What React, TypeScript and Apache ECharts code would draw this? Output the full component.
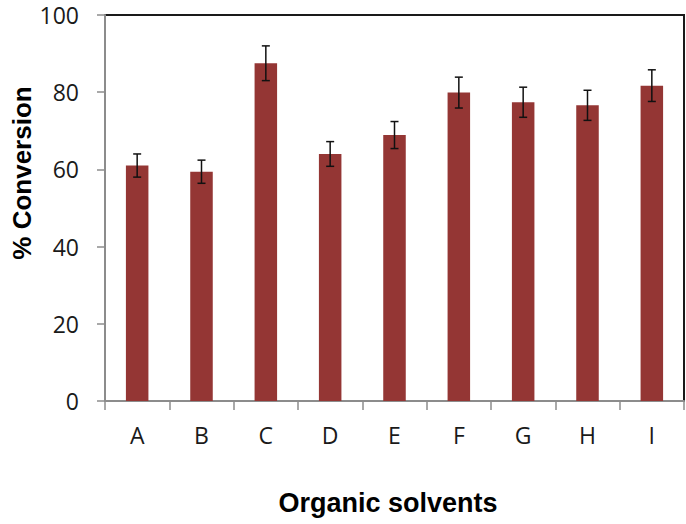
import React, { useEffect, useRef } from "react";
import * as echarts from "echarts";

const categories = ["A", "B", "C", "D", "E", "F", "G", "H", "I"];
const conversion = [61.0, 59.4, 87.5, 64.0, 68.9, 79.9, 77.4, 76.6, 81.7];
const errors = [3.0, 3.0, 4.5, 3.2, 3.5, 4.0, 3.9, 3.9, 4.1];
const yTicks = [0, 20, 40, 60, 80, 100];

export default function App() {
  const ref = useRef<HTMLDivElement>(null);
  useEffect(() => {
    if (!ref.current) return;
    const chart = echarts.init(ref.current, null, { renderer: "svg" });
    const errData = categories.map((c, i) => [i, conversion[i] - errors[i], conversion[i] + errors[i]]);
    chart.setOption({
      animation: false,
      backgroundColor: "#ffffff",
      grid: {
        left: 105,
        right: 2,
        top: 15,
        bottom: 123,
        show: true,
        borderColor: "#1a1a1a",
        borderWidth: 2,
        backgroundColor: "transparent",
      },
      xAxis: {
        type: "category",
        data: categories,
        axisLine: { show: true, lineStyle: { color: "#8c8c8c", width: 2 } },
        axisTick: { show: true, alignWithLabel: false, length: 9, lineStyle: { color: "#8c8c8c", width: 1.5 } },
        axisLabel: { fontFamily: "Open Sans", fontSize: 23, color: "#1a1a1a", margin: 22 },
        splitLine: { show: false },
      },
      yAxis: {
        type: "value",
        min: yTicks[0],
        max: yTicks[yTicks.length - 1],
        interval: 20,
        axisLine: { show: true, lineStyle: { color: "#8c8c8c", width: 2 } },
        axisTick: { show: true, length: 8, lineStyle: { color: "#8c8c8c", width: 1.5 } },
        axisLabel: { fontFamily: "Open Sans", fontSize: 23, color: "#1a1a1a", margin: 26 },
        splitLine: { show: false },
      },
      series: [
        {
          type: "bar",
          data: conversion,
          barWidth: "35%",
          itemStyle: { color: "#943634" },
          z: 2,
        },
        {
          type: "custom",
          data: errData,
          z: 3,
          renderItem: (params: any, api: any) => {
            const x = api.value(0);
            const lo = api.coord([x, api.value(1)]);
            const hi = api.coord([x, api.value(2)]);
            const half = 4;
            const style = { stroke: "#111111", lineWidth: 1.5 };
            return {
              type: "group",
              children: [
                { type: "line", shape: { x1: lo[0], y1: lo[1], x2: hi[0], y2: hi[1] }, style },
                { type: "line", shape: { x1: lo[0] - half, y1: lo[1], x2: lo[0] + half, y2: lo[1] }, style },
                { type: "line", shape: { x1: hi[0] - half, y1: hi[1], x2: hi[0] + half, y2: hi[1] }, style },
              ],
            };
          },
        },
      ],
      graphic: [
        {
          type: "text",
          x: 388,
          y: 503,
          style: {
            text: "Organic solvents",
            font: "bold 27px 'Liberation Sans', Arial, sans-serif",
            fill: "#000000",
            textAlign: "center",
            textVerticalAlign: "middle",
          },
        },
        {
          type: "text",
          x: 22,
          y: 173,
          rotation: Math.PI / 2,
          style: {
            text: "% Conversion",
            font: "bold 26px 'Liberation Sans', Arial, sans-serif",
            fill: "#000000",
            textAlign: "center",
            textVerticalAlign: "middle",
          },
        },
      ],
    });
    return () => chart.dispose();
  }, []);
  return <div ref={ref} style={{ width: 686, height: 524, position: "absolute", left: 0, top: 0 }} />;
}
